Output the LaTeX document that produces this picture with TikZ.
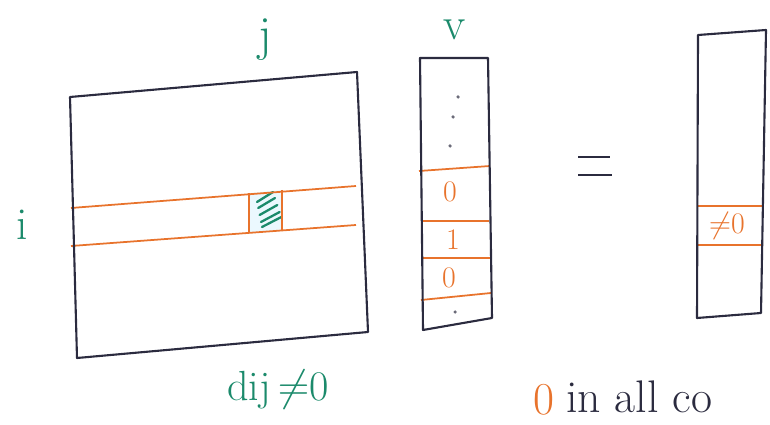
\documentclass[tikz,border=0pt]{standalone}
\usepackage{amsmath,amssymb}
\usetikzlibrary{positioning}
\definecolor{ink}{HTML}{2B2B3F}
\definecolor{hl}{HTML}{E8732C}
\definecolor{idx}{HTML}{1B8A6B}

\begin{document}
\begin{tikzpicture}[
  x=0.02cm, y=-0.02cm,
  box/.style={draw=ink, line width=1.2pt, line join=round},
  band/.style={draw=hl, line width=1pt},
  lbl/.style={text=idx, font=\fontsize{26}{30}\selectfont, inner sep=0pt},
  num/.style={text=hl, font=\fontsize{17}{20}\selectfont, inner sep=0pt}
]
  \useasboundingbox (0,0) rectangle (770,425);

  % matrix D with row i
  \fill[cyan!8] (250,193) -- (281,190) -- (281,230) -- (250,233) -- cycle;
  \foreach \y in {0,6,13,20,25}
    \draw[idx, line width=1.3pt, line cap=round] (257+\y/5,202+\y) -- (273+\y/3,192+\y);
  \draw[band] (71,208) -- (356,186);
  \draw[band] (71,246) -- (356,225);
  \draw[band] (249,193) -- (249,233);
  \draw[band] (282,190) -- (282,231);
  \draw[box] (70,97) -- (357,72) -- (368,332) -- (77,358) -- cycle;

  \node[lbl, font=\fontsize{28}{32}\selectfont] (jlab) at (265,40) {j};
  \node[lbl] (ilab) at (22,225) {i};
  \node[lbl, font=\fontsize{24}{28}\selectfont] (dlab) at (278,390) {dij\,$\neq$0};

  % vector v
  \draw[band] (419,171) -- (490,166);
  \draw[band] (421,221) -- (489,221);
  \draw[band] (421,258) -- (490,258);
  \draw[band] (421,300) -- (491,293);
  \draw[box] (420,58) -- (488,58) -- (492,318) -- (423,330) -- cycle;
  \node[lbl] (vlab) at (455,30) {v};
  \foreach \p in {(458,97),(453,117),(450,146),(455,312)}
    \fill[ink!70] \p circle (1pt);
  \node[num] (v0a) at (450,192) {0};
  \node[num] (v1) at (453,240) {1};
  \node[num] (v0b) at (449,278) {0};

  % equals
  \draw[ink, line width=1.2pt] (578,157) -- (610,157);
  \draw[ink, line width=1.2pt] (578,175) -- (612,175);

  % result vector
  \draw[band] (698,206) -- (762,206);
  \draw[band] (698,245) -- (762,245);
  \draw[box] (698,35) -- (766,30) -- (761,313) -- (697,318) -- cycle;
  \node[num] (res) at (727,226) {$\neq$0};

  % note at the bottom
  \node[anchor=base west, text=hl, font=\fontsize{26}{30}\selectfont, inner sep=0pt] (zero) at (533,414) {0};
  \node[anchor=base west, text=ink, font=\fontsize{26}{30}\selectfont, inner sep=0pt] (note) at (566,412) {in all co};
\end{tikzpicture}
\end{document}
